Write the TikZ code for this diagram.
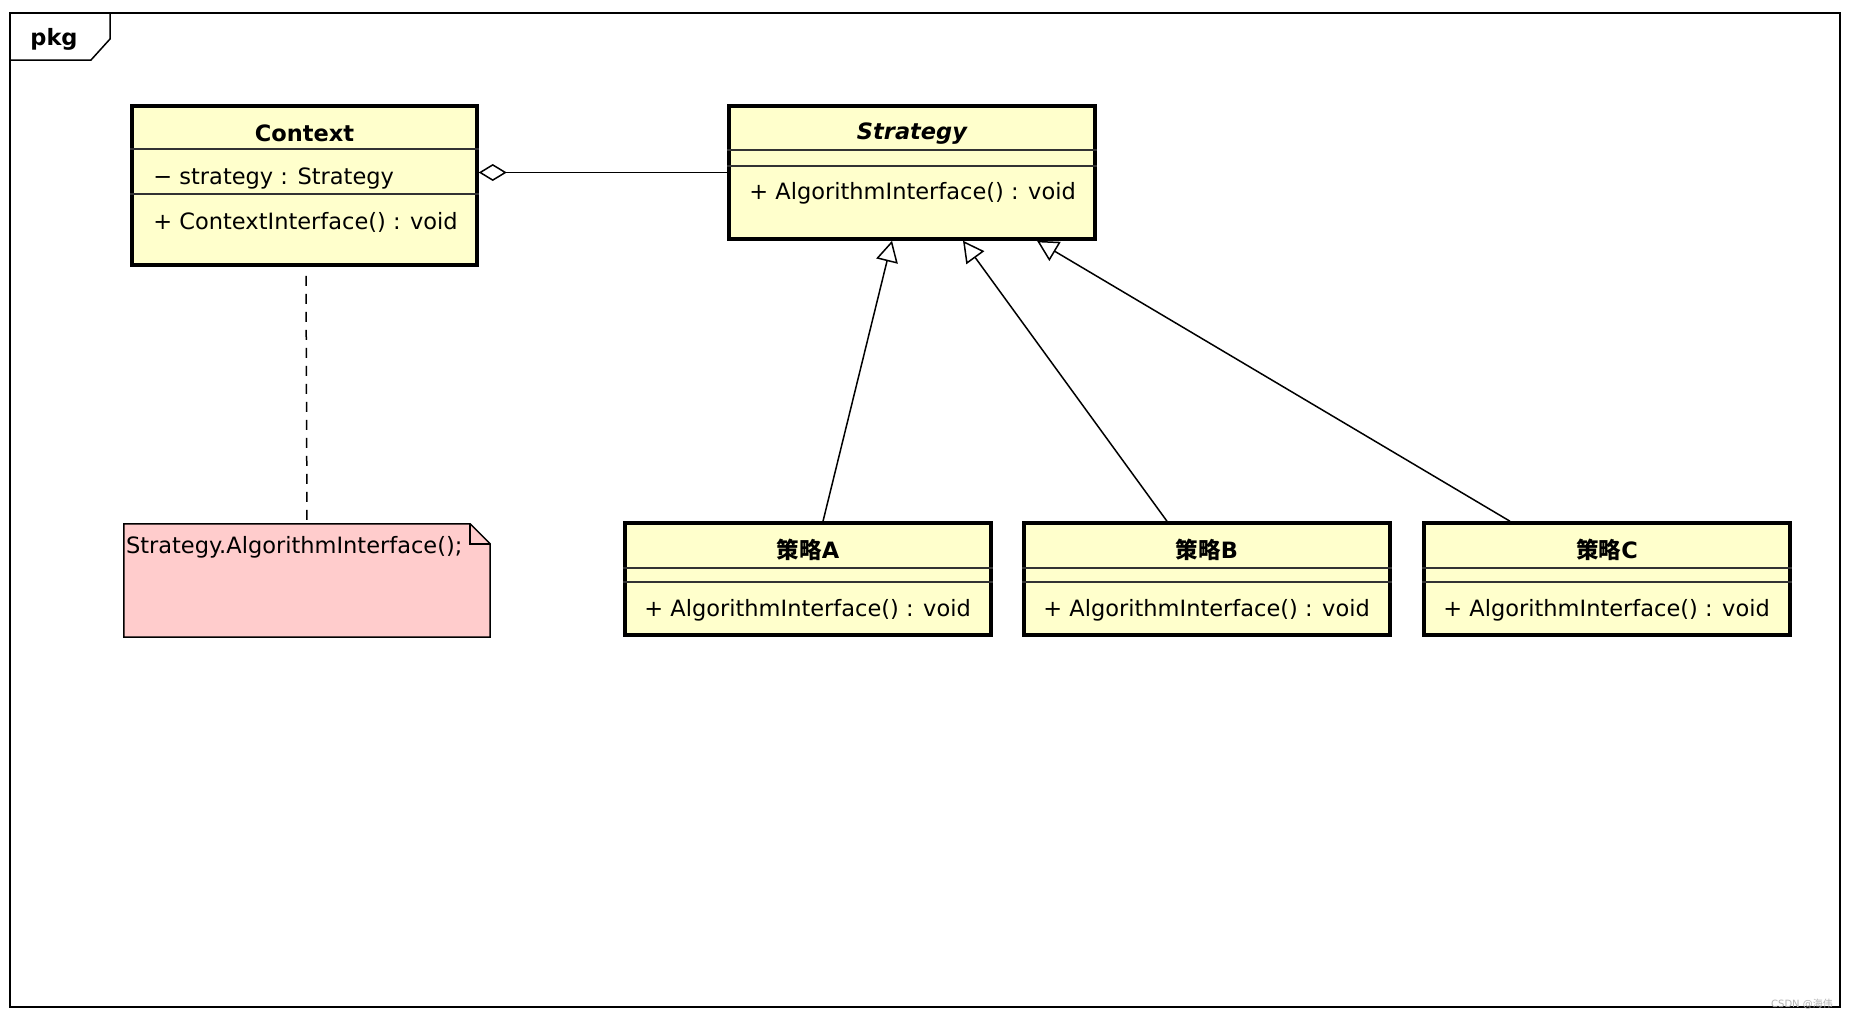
\documentclass[tikz,border=0pt]{standalone}
\usepackage{fontspec}
\setmainfont{DejaVu Sans}
\newfontfamily\cjk{Noto Sans CJK SC}
\usetikzlibrary{calc,arrows.meta}
\definecolor{umlyellow}{RGB}{255,255,204}
\definecolor{notepink}{RGB}{255,204,204}

\begin{document}
\begin{tikzpicture}[x=1pt,y=-1pt,font=\fontsize{22.5}{26}\selectfont]
    \tikzset{classbox/.style={draw,line width=3.5pt,fill=umlyellow,minimum width=366pt,inner sep=0pt},
        divider/.style={line width=1.8pt,draw=black!80},
        classname/.style={font=\fontsize{22.5}{26}\selectfont\bfseries,inner sep=0pt},
        member/.style={anchor=west,inner sep=0pt},
        inherit/.style={line width=1.5pt,-{Triangle[open,length=21pt,width=22pt,line width=1.5pt]}},
        aggregation/.style={line width=1.5pt,-{Diamond[open,length=28pt,width=17pt,line width=1.5pt]}},
        notelink/.style={line width=1.5pt,dash pattern=on 10pt off 8pt}}
    \useasboundingbox[fill=white] (0,0) rectangle (1852,1020);
    % package frame
    \draw[line width=2pt] (10,13) rectangle (1840,1007);
    \draw[line width=1.5pt] (110,13) -- (110,39) -- (91,60) -- (10,60);
    \node[classname] (pkg) at (54,39) {pkg};
    % Context
    \node[classbox,minimum width=345pt,minimum height=159pt] (context) at (304.5,185.5) {};
    \node[classname] (contextname) at ($(context.north)+(0,29)$) {Context};
    \draw[divider] ($(context.north west)+(0,45)$) -- ($(context.north east)+(0,45)$);
    \draw[divider] ($(context.north west)+(0,90)$) -- ($(context.north east)+(0,90)$);
    \node[member] (contextattr) at ($(context.north west)+(23,74)$) {− strategy : Strategy};
    \node[member] (contextop) at ($(context.north west)+(23,118)$) {+ ContextInterface() : void};
    % Strategy
    \node[classbox,minimum height=133pt] (strategy) at (912,172.5) {};
    \node[classname] (strategyname) at ($(strategy.north)+(0,29)$) {\itshape Strategy};
    \draw[divider] ($(strategy.north west)+(0,46)$) -- ($(strategy.north east)+(0,46)$);
    \draw[divider] ($(strategy.north west)+(0,62)$) -- ($(strategy.north east)+(0,62)$);
    \node[member] (strategyop) at ($(strategy.north west)+(22,89)$) {+ AlgorithmInterface() : void};
    % concrete strategies
    \foreach \name/\cx in {A/808,B/1207,C/1607}{
        \node[classbox,minimum height=112pt] (strat\name) at (\cx,579) {};
        \node[classname] (strat\name name) at ($(strat\name.north)+(0,29)$) {{\cjk 策略}\name};
        \draw[divider] ($(strat\name.north west)+(0,47)$) -- ($(strat\name.north east)+(0,47)$);
        \draw[divider] ($(strat\name.north west)+(0,61)$) -- ($(strat\name.north east)+(0,61)$);
        \node[member] (strat\name op) at ($(strat\name.north west)+(21,89)$) {+ AlgorithmInterface() : void};
    }
    % note
    \node[minimum width=366pt,minimum height=113pt,inner sep=0pt] (note) at (307,580.5) {};
    \draw[line width=1.5pt,fill=notepink] (note.north west) -- ($(note.north east)+(-20,0)$)
        -- ($(note.north east)+(0,20)$) -- (note.south east) -- (note.south west) -- cycle;
    \draw[line width=1.5pt] ($(note.north east)+(-20,0)$) -- ($(note.north east)+(-20,20)$) -- ($(note.north east)+(0,20)$);
    \node[member] (notetext) at ($(note.north west)+(2,23)$) {Strategy.AlgorithmInterface();};
    % connectors
    \draw[aggregation] (strategy.west) -- (strategy.west -| context.east);
    \draw[notelink] ($(context.south)+(1.5,9)$) -- ($(note.north)+(0,0)$);
    \draw[inherit] ([xshift=15pt]stratA.north) -- ([xshift=-20pt]strategy.south);
    \draw[inherit] ([xshift=-40pt]stratB.north) -- ([xshift=51pt]strategy.south);
    \draw[inherit] ([xshift=-97pt]stratC.north) -- ([xshift=125pt]strategy.south);
    \node[font=\fontsize{10}{12}\selectfont,text=black!30,inner sep=0pt] (mark) at (1802,1004) {CSDN @{\cjk 海伟}};
\end{tikzpicture}
\end{document}
